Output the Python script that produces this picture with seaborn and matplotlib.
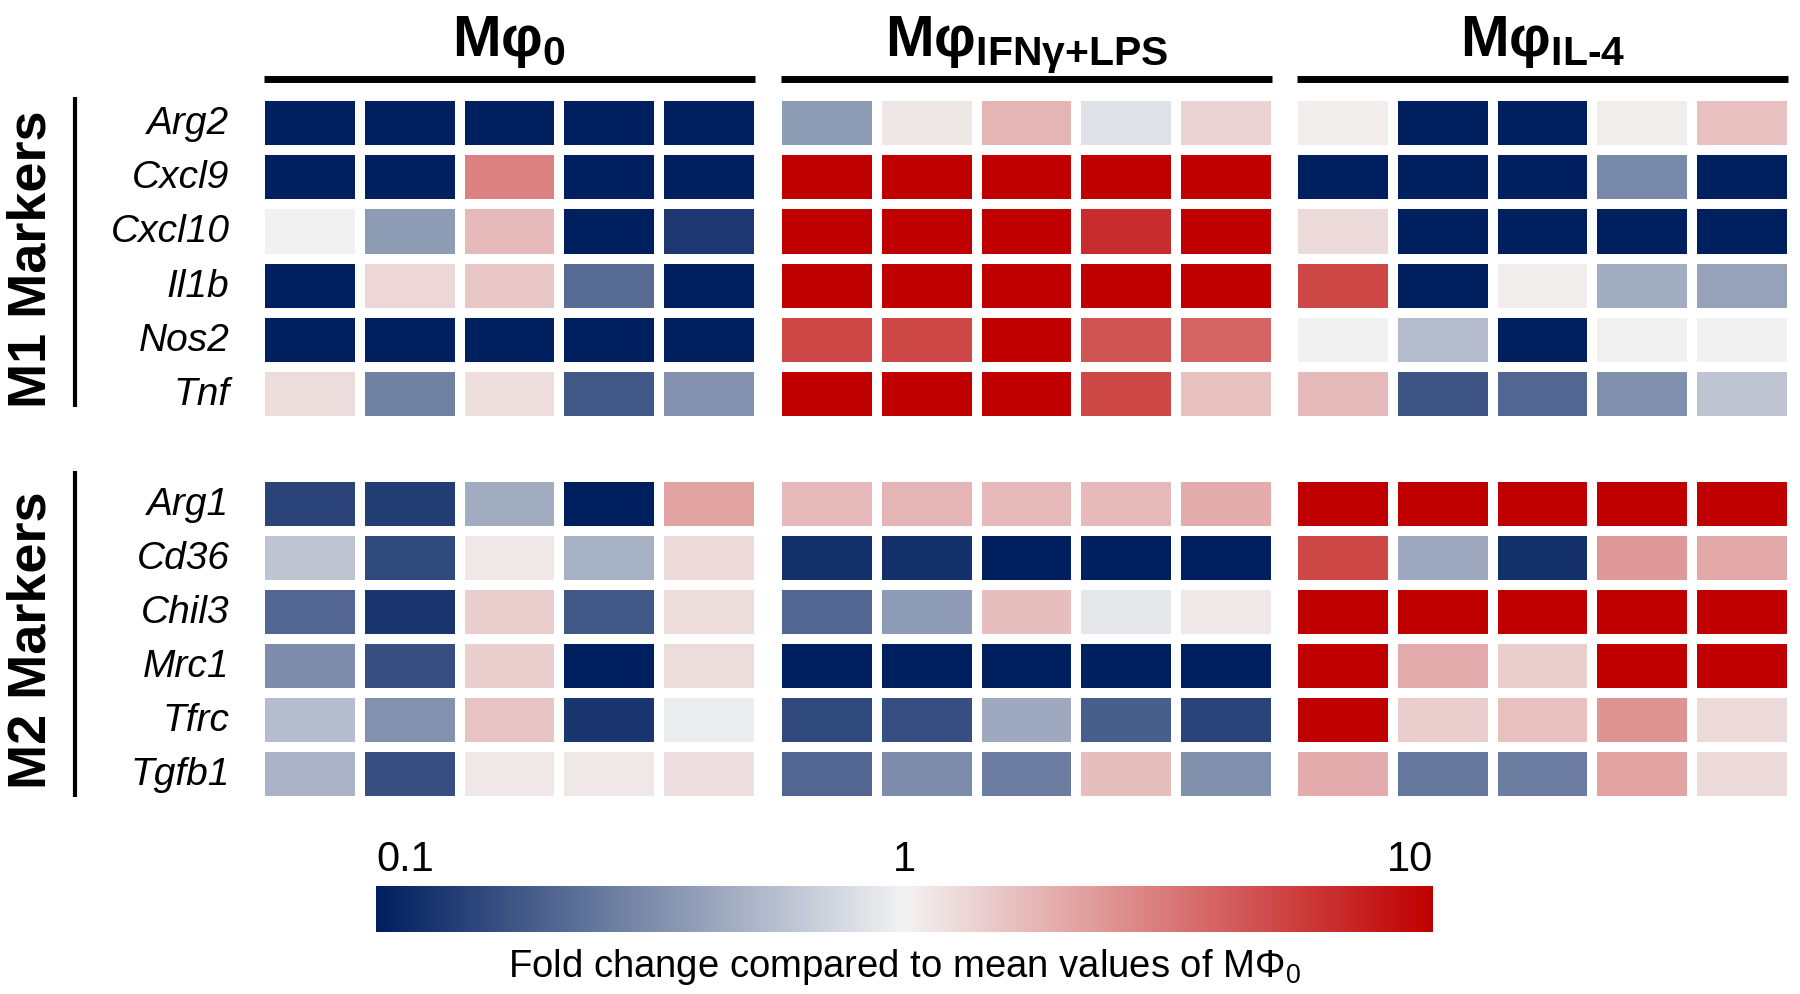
import numpy as np
import pandas as pd
import matplotlib
matplotlib.use('Agg')
import matplotlib.pyplot as plt
import seaborn as sns
from matplotlib.colors import LinearSegmentedColormap, LogNorm
from matplotlib.cm import ScalarMappable
from matplotlib.ticker import NullLocator

# ── data: fold change vs mean of Mφ0 (5 replicates per group) ──────────────
m1_genes = ['Arg2', 'Cxcl9', 'Cxcl10', 'Il1b', 'Nos2', 'Tnf']
m2_genes = ['Arg1', 'Cd36', 'Chil3', 'Mrc1', 'Tfrc', 'Tgfb1']
group_titles = [r'$\mathbf{Mφ_{0}}$', r'$\mathbf{Mφ_{IFNγ{+}LPS}}$', '$\\mathbf{Mφ_{IL\u20104}}$']

m1_m0 = [[0.1, 0.1, 0.1, 0.1, 0.1],
         [0.1, 0.1, 2.9, 0.1, 0.1],
         [1.0, 0.39, 1.7, 0.1, 0.135],
         [0.1, 1.3, 1.5, 0.23, 0.1],
         [0.1, 0.1, 0.1, 0.1, 0.1],
         [1.23, 0.29, 1.2, 0.19, 0.35]]
m1_ifn = [[0.39, 1.12, 1.8, 0.83, 1.35],
          [10, 10, 10, 10, 10],
          [10, 10, 10, 6.5, 10],
          [10, 10, 10, 10, 10],
          [5.0, 5.0, 10, 4.5, 3.9],
          [10, 10, 10, 5.0, 1.6]]
m1_il4 = [[1.04, 0.1, 0.1, 1.05, 1.6],
          [0.1, 0.1, 0.1, 0.32, 0.1],
          [1.26, 0.1, 0.1, 0.1, 0.1],
          [5.0, 0.1, 1.05, 0.47, 0.42],
          [1.0, 0.56, 0.1, 1.0, 1.0],
          [1.7, 0.18, 0.22, 0.34, 0.61]]

m2_m0 = [[0.15, 0.14, 0.47, 0.1, 2.1],
         [0.61, 0.16, 1.1, 0.49, 1.25],
         [0.22, 0.13, 1.4, 0.19, 1.23],
         [0.33, 0.17, 1.4, 0.1, 1.23],
         [0.56, 0.35, 1.55, 0.13, 0.94],
         [0.51, 0.17, 1.1, 1.1, 1.18]]
m2_ifn = [[1.7, 1.8, 1.7, 1.7, 1.95],
          [0.12, 0.12, 0.1, 0.1, 0.1],
          [0.22, 0.39, 1.65, 0.89, 1.08],
          [0.1, 0.1, 0.1, 0.1, 0.1],
          [0.16, 0.17, 0.45, 0.2, 0.15],
          [0.22, 0.33, 0.28, 1.65, 0.34]]
m2_il4 = [[10, 10, 10, 10, 10],
          [5.0, 0.45, 0.12, 2.36, 2.0],
          [10, 10, 10, 10, 10],
          [10, 1.95, 1.4, 10, 10],
          [10, 1.4, 1.6, 2.45, 1.25],
          [1.95, 0.26, 0.28, 2.1, 1.25]]

cbar_ticks = [0.1, 1, 10]
cbar_labels = ['0.1', '1', '10']

# ── style ────────────────────────────────────────────────────────────────────
sns.set_style('white')
plt.rcParams['font.family'] = ['Liberation Sans', 'DejaVu Sans']
plt.rcParams['mathtext.fontset'] = 'custom'
plt.rcParams['mathtext.rm'] = 'Liberation Sans'
plt.rcParams['mathtext.bf'] = 'Liberation Sans:bold'
plt.rcParams['mathtext.it'] = 'Liberation Sans:italic'
for key in ['text.color', 'axes.labelcolor', 'xtick.color', 'ytick.color']:
    plt.rcParams[key] = 'black'

cmap = LinearSegmentedColormap.from_list('fc', ['#001f5f', '#f2f2f2', '#c00000'])
norm = LogNorm(vmin=0.1, vmax=10)

W, H = 1800, 995
fig = plt.figure(figsize=(W / 100, H / 100), dpi=100)
fig.patch.set_facecolor('white')


def rect(x0, x1, ytop, ybot):
    return [x0 / W, 1 - ybot / H, (x1 - x0) / W, (ybot - ytop) / H]


group_x = [(260, 759), (777, 1276), (1293, 1792)]
block_y = [(97, 422), (478, 802)]
rule_span = [(0.997, 0.043), (1.02, 0.012)]   # vertical rule next to block label
blocks = [(m1_genes, [m1_m0, m1_ifn, m1_il4], 'M1 Markers'),
          (m2_genes, [m2_m0, m2_ifn, m2_il4], 'M2 Markers')]

for b, (genes, groups, label) in enumerate(blocks):
    ytop, ybot = block_y[b]
    for g, vals in enumerate(groups):
        x0, x1 = group_x[g]
        ax = fig.add_axes(rect(x0, x1, ytop, ybot))
        df = pd.DataFrame(vals, index=genes)
        sns.heatmap(df, ax=ax, cmap=cmap, norm=norm, cbar=False,
                    linewidths=6, linecolor='white',
                    xticklabels=False, yticklabels=genes if g == 0 else False)
        ax.tick_params(left=False, bottom=False, length=0, pad=22)
        if g == 0:
            for t in ax.get_yticklabels():
                t.set_rotation(0)
                t.set_fontstyle('italic')
                t.set_fontsize(28)
                t.set_color('black')
            # block label + vertical rule
            ax.text(-0.457, 0.5, label, rotation=90, ha='center', va='center',
                    fontsize=39, fontweight='bold', transform=ax.transAxes)
            ax.plot([-0.371, -0.371], list(rule_span[b]), color='black', lw=3,
                    transform=ax.transAxes, clip_on=False, solid_capstyle='butt')
        if b == 0:
            ax.text(0.5, 1.125, group_titles[g], ha='center', va='baseline',
                    fontsize=42, transform=ax.transAxes)
            ax.plot([0.008, 0.992], [1.052, 1.052], color='black', lw=5,
                    transform=ax.transAxes, clip_on=False, solid_capstyle='butt')

# ── colorbar ─────────────────────────────────────────────────────────────────
cax = fig.add_axes(rect(376, 1433, 887, 933))
sm = ScalarMappable(norm=norm, cmap=cmap)
cbar = fig.colorbar(sm, cax=cax, orientation='horizontal')
cbar.outline.set_visible(False)
cax.xaxis.set_ticks_position('top')
cbar.set_ticks(cbar_ticks)
cbar.set_ticklabels(cbar_labels)
cax.xaxis.set_minor_locator(NullLocator())
cax.tick_params(length=0, pad=5, labelsize=30, labelcolor='black')
labs = cax.get_xticklabels()
labs[0].set_horizontalalignment('left')
labs[-1].set_horizontalalignment('right')
cax.xaxis.set_label_position('bottom')
cax.set_xlabel('Fold change compared to mean values of MΦ$_0$', fontsize=27.5,
               labelpad=10, color='black')

plt.savefig('out.png', dpi=100, facecolor='white')
